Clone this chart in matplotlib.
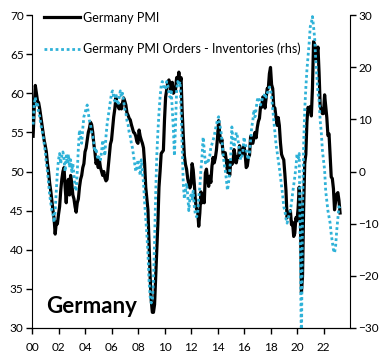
import numpy as np
import matplotlib
matplotlib.use("Agg")
import matplotlib.pyplot as plt

# Germany manufacturing PMI, monthly Jan 2000 - Mar 2023 (lhs)
pmi = [
    54.5, 58.0, 61.0, 60.0, 59.0, 58.8, 58.0, 57.0, 56.0, 55.0, 54.0, 53.3,
    52.5, 51.0, 50.0, 48.5, 47.5, 46.2, 45.0, 44.0, 42.0, 43.5, 43.3, 44.5,
    45.5, 47.5, 49.0, 50.0, 50.5, 48.0, 46.0, 48.5, 49.0, 47.0, 49.5, 48.5,
    47.0, 46.5, 45.5, 44.8, 46.0, 46.5, 48.0, 49.0, 49.5, 50.5, 51.0, 52.5,
    53.0, 54.0, 55.0, 55.5, 56.3, 56.0, 55.0, 53.5, 52.5, 51.0, 51.5, 50.5,
    51.5, 50.5, 50.0, 49.5, 50.0, 49.2, 48.8, 49.0, 50.5, 52.0, 53.5, 54.0,
    55.5, 57.0, 58.0, 59.4, 58.5, 58.3, 58.0, 58.5, 58.0, 58.8, 59.4, 59.0,
    58.5, 57.5, 57.2, 56.8, 56.6, 56.0, 55.5, 55.0, 54.9, 54.5, 53.8, 53.6,
    55.3, 54.5, 54.0, 53.6, 53.0, 51.0, 48.0, 46.5, 45.1, 41.0, 36.5, 33.5,
    32.0, 32.0, 33.0, 36.5, 40.0, 43.4, 48.0, 50.0, 52.3, 52.5, 52.7, 56.6,
    59.5, 60.5, 61.4, 61.7, 61.0, 60.4, 61.4, 60.0, 60.2, 60.5, 62.0, 61.5,
    62.7, 61.3, 62.0, 57.7, 54.6, 52.0, 50.9, 50.3, 49.1, 48.4, 47.9, 48.4,
    51.0, 50.2, 48.4, 46.2, 45.2, 45.0, 43.0, 44.7, 47.4, 46.0, 46.8, 46.0,
    49.8, 50.3, 49.0, 48.1, 49.4, 48.6, 50.7, 51.8, 51.1, 51.7, 52.7, 54.3,
    56.5, 54.8, 53.7, 54.1, 52.3, 52.0, 52.4, 51.4, 49.9, 51.4, 49.5, 51.2,
    50.9, 51.1, 52.8, 52.0, 51.1, 51.9, 51.8, 53.3, 52.3, 52.1, 52.9, 53.2,
    52.3, 50.5, 50.7, 51.8, 52.1, 54.5, 53.8, 53.6, 54.3, 55.0, 54.3, 55.6,
    56.4, 56.8, 58.3, 58.2, 59.5, 59.6, 58.1, 59.3, 60.6, 60.6, 62.5, 63.3,
    61.1, 60.6, 58.2, 58.1, 56.9, 55.9, 56.9, 55.9, 53.7, 52.2, 51.8, 51.5,
    49.7, 47.6, 44.1, 44.4, 44.3, 45.0, 43.2, 43.5, 41.7, 42.1, 44.1, 43.7,
    45.3, 48.0, 45.4, 34.5, 36.6, 45.2, 51.0, 52.2, 56.4, 58.2, 57.8, 58.3,
    57.1, 60.7, 66.6, 66.2, 64.4, 65.1, 65.9, 62.6, 58.4, 57.8, 57.4, 57.4,
    59.8, 58.4, 56.9, 54.6, 54.8, 52.0, 49.3, 49.1, 47.8, 45.1, 46.2, 47.1,
    47.3, 46.3, 44.7,
]

# Germany PMI new orders minus inventories, same months (rhs)
orders_inv = [
    9, 12.75, 14.25, 12.75, 13.2, 11.25, 10.5, 9, 7.95, 6.75, 5.4, 3.75,
    1.5, 0, -2.25, -4.5, -6, -7.5, -8.25, -9.75, -7.5, -3.75, 0, 2.25,
    3.45, 1.5, 3, 3.75, 2.25, 0, 3, 1.5, 3.3, 0.75, 2.25, 0,
    1.5, -0.75, -3, -3.75, 0, 4.5, 7.95, 6.75, 5.4, 8.25, 10.5, 11.25,
    12, 12.75, 11.25, 9.75, 9, 7.5, 6.75, 5.25, 3.75, 4.5, 3, 2.25,
    3, 2.25, 3.75, 6, 4.5, 3, 6.75, 9, 10.5, 12, 13.5, 15,
    15.45, 14.25, 13.5, 15, 13.5, 12.75, 14.25, 15.45, 14.25, 15, 13.5, 12,
    11.25, 9.75, 9, 7.5, 6.75, 5.4, 4.5, 3, 1.5, 0, 0.75, 2.25,
    0.75, -0.75, 2.25, 0, -2.25, -6, -9, -12, -15.75, -21, -24, -25.2,
    -24.75, -21, -13.5, -4.5, 3, 7.5, 11.25, 14.25, 16.5, 17.25, 16.5, 15.75,
    15.75, 17.25, 16.5, 15, 14.25, 15.75, 12, 8.25, 3, 9, 15.75, 17.25,
    16.5, 17.25, 12, 4.5, -2.25, -5.25, -3.75, -2.25, -4.5, -7.5, -5.25, -4.5,
    -5.25, -3.75, -6.75, -8.25, -8.7, -8.25, -4.95, -3, 0.3, 3, 6.6, 4.05,
    1.65, 2.25, 1.5, 2.25, 3, 4.65, 5.25, 6, 6.75, 7.95, 9, 9.9,
    10.5, 9, 7.95, 6, 3.45, 1.5, 0.3, -1.5, -3.6, -2.25, 0, 2.85,
    8.55, 6, 4.65, 6, 7.5, 6.75, 5.4, 3.75, 2.25, 2.85, 3.75, 6.6,
    5.4, 4.5, 3, 2.25, 3.75, 6, 8.55, 9.75, 11.85, 10.5, 12, 13.65,
    14.25, 13.5, 12.75, 13.5, 14.25, 14.25, 15, 14.25, 15, 15.45, 16.2, 15.75,
    14.25, 12, 9.75, 7.5, 5.25, 3.75, 2.25, 0.75, -1.05, -3, -4.5, -6.75,
    -7.5, -9, -9.9, -9, -8.25, -7.5, -6, -4.2, -2.7, -1.05, 0.75, 3.45,
    2.25, 3.45, -15, -34, -7.5, 5, 11.85, 16, 19.5, 22, 24.6, 27.75,
    28.5, 29.7, 27.75, 25.5, 21.3, 18, 15, 13.65, 9.75, 7.5, 4.05, 2.25,
    0.3, -3.75, -5.7, -7.5, -8.7, -9.9, -12, -13.5, -15, -15.6, -14.25, -11.25,
    -9, -6.75, -7.5,
]

xticks = list(range(2000, 2023, 2))
xtick_labels = [f"{y % 100:02d}" for y in xticks]

# month-end positions in decimal years
t = 2000 + (np.arange(len(pmi)) + 1) / 12

plt.rcParams['font.family'] = ['Lato', 'DejaVu Sans']

fig = plt.figure(figsize=(3.84, 3.6), dpi=100)
ax = fig.add_axes([32 / 384, 32 / 360, 318 / 384, 313 / 360])
ax2 = ax.twinx()

ax.plot(t, pmi, color='black', lw=2.3, label='Germany PMI', zorder=3)
ax2.plot(t, orders_inv, color='#2fb2d8', lw=2.0, linestyle=(0, (1, 1)),
         label='Germany PMI Orders - Inventories (rhs)')

ax.set_xlim(2000, 2024)
ax.set_ylim(30, 70)
ax2.set_ylim(-30, 30)
ax.set_yticks(range(30, 71, 5))
ax2.set_yticks(range(-30, 31, 10))
ax.set_xticks(xticks)
ax.set_xticklabels(xtick_labels)

for a in (ax, ax2):
    a.spines['top'].set_visible(False)
    a.tick_params(direction='out', length=4, width=1, labelsize=8.5, pad=2, colors='black')
ax.spines['right'].set_visible(False)
ax2.spines['left'].set_visible(False)
ax.tick_params(axis='x', pad=6)

ax.text(0.045, 0.035, 'Germany', transform=ax.transAxes, fontsize=16,
        fontweight='bold', ha='left', va='bottom')

h1, l1 = ax.get_legend_handles_labels()
h2, l2 = ax2.get_legend_handles_labels()
leg = ax2.legend(h1 + h2, l1 + l2, loc='upper left', bbox_to_anchor=(0.018, 1.03),
                 frameon=False, fontsize=9, borderpad=0, handlelength=2.9,
                 handletextpad=0.25, labelspacing=1.5)
leg.set_zorder(1)

fig.savefig('out.png', dpi=100)
